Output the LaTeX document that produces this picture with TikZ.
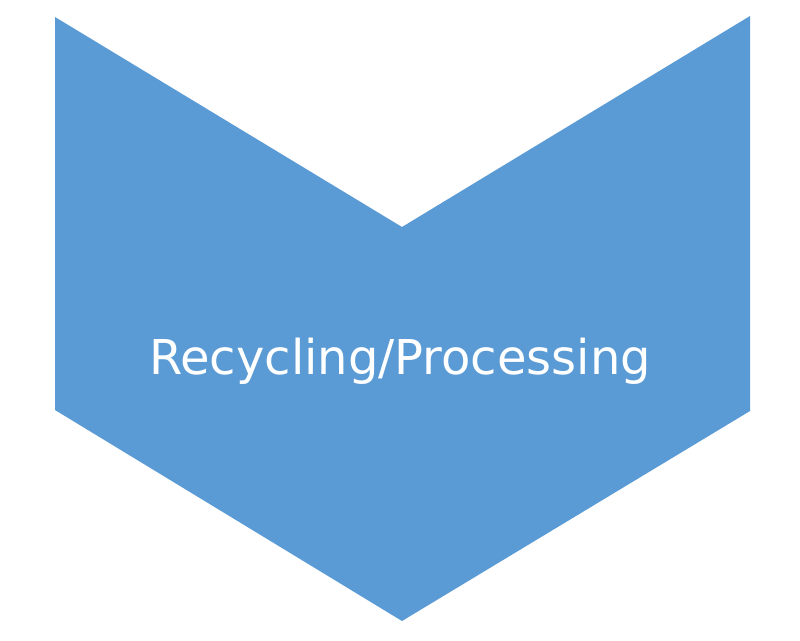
\documentclass[tikz,border=0pt]{standalone}
\usepackage{fontspec}
\setmainfont{DejaVu Sans}
\definecolor{chev}{HTML}{5B9BD5}
\begin{document}
\begin{tikzpicture}[x=1pt,y=-1pt,
  chevshape/.style={fill=chev,draw=none},
  lbl/.style={text=white,font=\fontsize{48}{56}\selectfont,anchor=base,inner sep=0pt}]
\useasboundingbox (0,0) rectangle (800,640);
\fill[white] (0,0) rectangle (800,640);
\path[chevshape] (55,17) -- (402,227) -- (750,16) -- (750,411) -- (402,621) -- (55,410) -- cycle;
\node[lbl] (t) at (400,374) {Recycling/Processing};
\end{tikzpicture}
\end{document}
